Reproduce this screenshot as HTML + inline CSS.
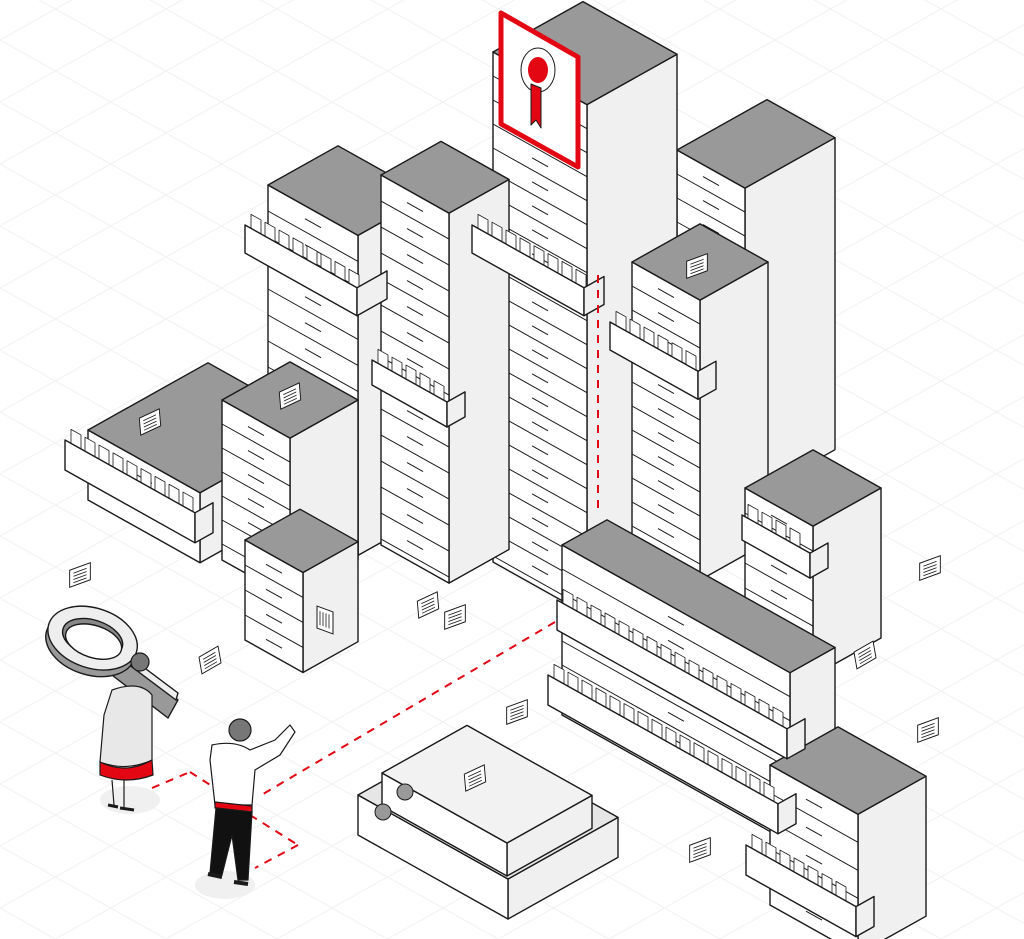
<!DOCTYPE html>
<html><head><meta charset="utf-8"><style>html,body{margin:0;padding:0;background:#fff;width:1024px;height:939px;overflow:hidden}</style></head>
<body>
<svg id="s" width="1024" height="939" viewBox="0 0 1024 939" xmlns="http://www.w3.org/2000/svg"></svg>
<script>
const svg=document.getElementById('s');const S=0.56;let out='';
function P(pts,fill,st,w){return `<polygon points="${pts.map(p=>p.join(',')).join(' ')}" fill="${fill}" stroke="${st||'#1a1a1a'}" stroke-width="${w||1.4}" stroke-linejoin="round"/>`;}
function Ln(x1,y1,x2,y2,c,w,d){return `<line x1="${x1}" y1="${y1}" x2="${x2}" y2="${y2}" stroke="${c||'#1a1a1a'}" stroke-width="${w||1.2}" ${d?`stroke-dasharray="${d}"`:''}/>`;}
for(let k=-1200;k<1800;k+=62){out+=Ln(0,k,1024,k+1024*S,'#f1f1f1',1);out+=Ln(0,k,1024,k-1024*S,'#f1f1f1',1);}
function box(x,y,a,b,h,dh,top){
 const L=[x,y],B=[x+a,y+S*a],R=[x+a+b,y+S*a-S*b],T=[x+b,y-S*b];
 const d=p=>[p[0],p[1]+h];
 let s=P([B,R,d(R),d(B)],'#f0f0f0')+P([L,B,d(B),d(L)],'#fff')+P([L,T,R,B],top||'#999');
 if(dh){const n=Math.floor(h/dh);for(let i=1;i<=n;i++){const k=i*dh;if(k<h-3)s+=Ln(L[0],L[1]+k,B[0],B[1]+k,'#1a1a1a',1);
  const mx=(L[0]+B[0])/2,my=(L[1]+B[1])/2+k-dh/2;s+=Ln(mx-8,my-8*S,mx+8,my+8*S,'#1a1a1a',1);}}
 return s;}
function paper(cx,cy,rot){return `<g transform="translate(${cx},${cy}) rotate(${rot}) skewX(-20)"><rect x="-11" y="-8" width="22" height="16" fill="#fff" stroke="#1a1a1a" stroke-width="1"/>${[-4,-1,2,5].map(v=>Ln(-7,v,7,v,'#1a1a1a',0.8)).join('')}</g>`;}
out+=`<ellipse cx="130" cy="800" rx="30" ry="14" fill="#f0f0f0"/><ellipse cx="225" cy="885" rx="30" ry="14" fill="#f0f0f0"/>`;
out+=box(677,150,68,90,312,24);
out+=box(268,185,90,70,320,26);
out+=box(493,52,94,90,510,24);
out+=box(381,175,68,60,370,26);
out+=box(632,262,68,68,280,24);
out+=box(88,430,112,120,70,35);
out+=box(222,400,68,68,160,24);
out+=box(245,540,58,55,100,25);
out+=box(745,488,68,68,150,25);
out+=box(562,545,228,45,170,24);
out+=box(770,765,88,68,140,28);
function tray(x,y,a,b,h){let s='';
 for(let i=0;i<a-12;i+=14){const cx=x+6+i,cy=y+S*(6+i);s+=P([[cx,cy-14],[cx+10,cy-14+S*10],[cx+10,cy+S*10],[cx,cy]],'#fff','#1a1a1a',0.8);}
 return s+P([[x,y],[x+a,y+S*a],[x+a,y+S*a+h],[x,y+h]],'#fff')+P([[x+a,y+S*a],[x+a+b,y+S*a-S*b],[x+a+b,y+S*a-S*b+h],[x+a,y+S*a+h]],'#f0f0f0');}
out+=tray(245,225,112,30,28);out+=tray(472,225,112,20,28);out+=tray(372,360,75,18,25);out+=tray(610,322,88,18,28);
out+=tray(65,440,130,18,30);out+=tray(742,515,68,18,25);out+=tray(557,600,230,18,30);out+=tray(548,675,230,18,30);out+=tray(746,845,110,18,30);
out+=box(358,795,150,110,40,0,'#e6e6e6');
out+=box(382,773,125,85,33,0,'#f2f2f2');
out+=`<circle cx="383" cy="812" r="8" fill="#999" stroke="#1a1a1a"/><circle cx="405" cy="792" r="8" fill="#999" stroke="#1a1a1a"/>`;
out+=P([[501,13],[578,57],[578,167],[501,124]],'#fff','#e30613',5);
out+=`<ellipse cx="538" cy="70" rx="17" ry="22" fill="#fff" stroke="#1a1a1a" stroke-width="1"/><ellipse cx="538" cy="70" rx="10" ry="13" fill="#e30613"/>`+P([[531,84],[541,88],[541,128],[536,120],[531,125]],'#e30613','#1a1a1a',1);
[[80,575,-20],[150,422,-25],[290,396,-25],[697,266,-20],[428,605,-25],[455,617,-20],[210,660,-30],[517,712,-20],[930,568,-20],[865,655,-30],[928,730,-20],[475,778,-25],[700,850,-20],[325,620,90]].forEach(p=>out+=paper(...p));
const r='#e30613';
out+=Ln(598,275,598,510,r,2,'8,7');out+=Ln(555,622,258,797,r,2,'8,7');
out+=Ln(152,788,190,772,r,2,'8,7');out+=Ln(190,772,218,790,r,2,'8,7');
out+=Ln(250,815,298,845,r,2,'8,7');out+=Ln(298,845,255,868,r,2,'8,7');
out+=`<g stroke="#1a1a1a" stroke-width="1.4"><path d="M118 655 L178 700 L168 718 L108 672 Z" fill="#999"/><path d="M118 648 L178 693 L176 700 L116 655 Z" fill="#eee"/><g transform="rotate(18 92 640)"><ellipse cx="92" cy="645" rx="46" ry="30" fill="#999"/><ellipse cx="92" cy="638" rx="46" ry="30" fill="#eee"/><ellipse cx="92" cy="638" rx="31" ry="18" fill="#888"/><ellipse cx="94" cy="641" rx="29" ry="16" fill="#fff"/></g></g>`;
out+=`<g stroke="#1a1a1a" stroke-width="1.2"><circle cx="140" cy="662" r="9" fill="#777"/><path d="M112 690 Q140 680 152 695 L152 760 Q126 772 100 762 L104 715 Z" fill="#e8e8e8"/><path d="M100 762 Q126 775 152 760 L153 775 Q126 785 100 775 Z" fill="#e30613"/><path d="M112 780 L114 805 M124 780 L124 808" fill="none"/><path d="M108 805 l10 2 M120 808 l14 2" stroke-width="3"/></g>`;
out+=`<g stroke="#1a1a1a" stroke-width="1.2"><circle cx="240" cy="730" r="11" fill="#777"/><path d="M212 745 Q235 740 250 750 L275 740 L290 725 L295 732 L280 755 L255 770 L252 805 L215 805 L210 760 Z" fill="#fff"/><path d="M215 802 L252 806 L252 812 L215 808 Z" fill="#e30613"/><path d="M216 808 L252 812 L248 880 L238 880 L232 835 L222 875 L210 873 Z" fill="#111"/><path d="M208 874 l14 3 M234 882 l14 2" stroke-width="4"/></g>`;
svg.innerHTML=out;
</script>
</body></html>
